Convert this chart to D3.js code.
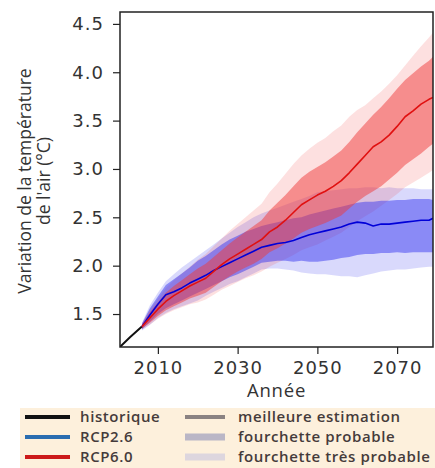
<!DOCTYPE html>
<html><head><meta charset="utf-8">
<script src="https://cdn.jsdelivr.net/npm/d3@7"></script>
<style>body{margin:0;background:#fff}svg{display:block}</style>
</head><body>
<svg id="c" width="435" height="468"></svg>
<script>
const histYears=[2000,2003,2006];
const histVals=[1.14,1.26,1.37];
const years=[2006,2008,2010,2012,2014,2016,2018,2020,2022,2024,2026,2028,2030,2032,2034,2036,2038,2040,2042,2044,2046,2048,2050,2052,2054,2056,2058,2060,2062,2064,2066,2068,2070,2072,2074,2076,2078,2079];
const rcp26Median=[1.37,1.49,1.60,1.70,1.73,1.77,1.82,1.86,1.90,1.95,1.99,2.03,2.07,2.11,2.15,2.19,2.21,2.23,2.24,2.26,2.29,2.32,2.34,2.36,2.38,2.40,2.43,2.45,2.44,2.41,2.43,2.43,2.44,2.45,2.46,2.47,2.47,2.49];
const rcp26LikelyLo=[1.34,1.42,1.50,1.56,1.60,1.64,1.68,1.72,1.76,1.80,1.84,1.88,1.91,1.95,1.99,2.03,2.04,2.05,2.05,2.04,2.05,2.04,2.04,2.05,2.06,2.08,2.09,2.11,2.12,2.12,2.13,2.13,2.14,2.13,2.14,2.14,2.14,2.14];
const rcp26LikelyHi=[1.40,1.56,1.68,1.80,1.86,1.92,1.98,2.05,2.10,2.16,2.22,2.27,2.31,2.35,2.38,2.41,2.43,2.45,2.47,2.49,2.50,2.53,2.55,2.57,2.59,2.61,2.63,2.65,2.66,2.66,2.67,2.67,2.68,2.68,2.69,2.69,2.69,2.68];
const rcp26VeryLo=[1.33,1.39,1.46,1.51,1.55,1.58,1.61,1.64,1.69,1.73,1.77,1.81,1.84,1.88,1.92,1.96,1.97,1.97,1.96,1.95,1.93,1.92,1.91,1.91,1.90,1.89,1.89,1.88,1.90,1.92,1.94,1.95,1.96,1.96,1.97,1.98,1.99,1.99];
const rcp26VeryHi=[1.41,1.59,1.72,1.84,1.91,1.98,2.04,2.10,2.16,2.22,2.28,2.34,2.40,2.45,2.50,2.54,2.57,2.60,2.63,2.66,2.69,2.72,2.76,2.77,2.78,2.79,2.80,2.80,2.81,2.81,2.80,2.81,2.80,2.80,2.80,2.79,2.79,2.79];
const rcp60Median=[1.37,1.46,1.55,1.63,1.69,1.74,1.79,1.83,1.87,1.94,2.01,2.07,2.12,2.17,2.22,2.27,2.35,2.40,2.47,2.55,2.63,2.68,2.73,2.77,2.82,2.88,2.96,3.05,3.14,3.23,3.28,3.35,3.44,3.54,3.60,3.67,3.72,3.74];
const rcp60LikelyLo=[1.35,1.41,1.48,1.54,1.58,1.62,1.66,1.69,1.72,1.78,1.84,1.89,1.94,1.98,2.02,2.07,2.14,2.18,2.23,2.28,2.34,2.38,2.41,2.44,2.48,2.52,2.59,2.66,2.72,2.77,2.82,2.89,2.96,3.04,3.10,3.16,3.23,3.26];
const rcp60LikelyHi=[1.39,1.52,1.62,1.72,1.79,1.85,1.91,1.97,2.02,2.09,2.16,2.23,2.29,2.35,2.41,2.47,2.57,2.65,2.73,2.82,2.91,2.97,3.02,3.07,3.13,3.19,3.28,3.38,3.47,3.56,3.64,3.73,3.83,3.92,3.99,4.06,4.12,4.16];
const rcp60VeryLo=[1.34,1.39,1.45,1.50,1.54,1.57,1.60,1.62,1.65,1.70,1.75,1.79,1.83,1.87,1.90,1.94,1.99,2.03,2.07,2.11,2.16,2.19,2.22,2.26,2.30,2.34,2.40,2.46,2.51,2.56,2.62,2.68,2.74,2.81,2.86,2.91,2.96,2.99];
const rcp60VeryHi=[1.40,1.55,1.66,1.77,1.85,1.92,1.99,2.06,2.12,2.20,2.28,2.36,2.43,2.50,2.57,2.64,2.76,2.85,2.95,3.05,3.14,3.21,3.27,3.32,3.39,3.45,3.54,3.61,3.66,3.73,3.80,3.88,3.97,4.07,4.17,4.27,4.36,4.41];
const yTicks=[1.5,2.0,2.5,3.0,3.5,4.0,4.5];
const xTicks=[2010,2030,2050,2070];
const legendLeft=["historique","RCP2.6","RCP6.0"];
const legendRight=["meilleure estimation","fourchette probable","fourchette très probable"];
const yLabel=["Variation de la température","de l'air (°C)"];
const xLabel="Année";

const svg=d3.select("#c");
const L=120,R=433,T=12,B=347;
const x=d3.scaleLinear().domain([2000.5,2079]).range([L,R]);
const y=d3.scaleLinear().domain([1.159,4.623]).range([B,T]);

svg.append("clipPath").attr("id","clip").append("rect").attr("x",L).attr("y",T).attr("width",R-L).attr("height",B-T);
const g=svg.append("g").attr("clip-path","url(#clip)");

function band(lo,hi,color,op){
  const a=d3.area().x((d,i)=>x(years[i])).y0((d,i)=>y(lo[i])).y1((d,i)=>y(hi[i]));
  g.append("path").datum(years).attr("d",a).attr("fill",color).attr("fill-opacity",op);
}
function line(xs,vals,color,w){
  const l=d3.line().x((d,i)=>x(xs[i])).y((d,i)=>y(vals[i]));
  g.append("path").datum(xs).attr("d",l).attr("fill","none").attr("stroke",color).attr("stroke-width",w).attr("stroke-linejoin","round");
}
band(rcp26VeryLo,rcp26VeryHi,"#2a2af0",0.18);
band(rcp60VeryLo,rcp60VeryHi,"#f03030",0.15);
band(rcp26LikelyLo,rcp26LikelyHi,"#2a2af0",0.45);
band(rcp60LikelyLo,rcp60LikelyHi,"#f03a3a",0.5);
line(histYears,histVals,"#111",2);
line(years,rcp26Median,"#0000d8",1.6);
line(years,rcp60Median,"#e01010",1.6);

svg.append("rect").attr("x",L).attr("y",T).attr("width",R-L).attr("height",B-T).attr("fill","none").attr("stroke","#222").attr("stroke-width",1.5);

const yAxis=svg.append("g").attr("transform",`translate(${L},0)`).call(d3.axisLeft(y).tickValues(yTicks).tickFormat(d3.format(".1f")).tickSize(7).tickPadding(9));
const xAxis=svg.append("g").attr("transform",`translate(0,${B})`).call(d3.axisBottom(x).tickValues(xTicks).tickFormat(d3.format("d")).tickSize(7).tickPadding(7));
[yAxis,xAxis].forEach(a=>{
  a.select(".domain").remove();
  a.selectAll("line").attr("stroke","#222").attr("stroke-width",1.2);
  a.selectAll("text").attr("font-family","DejaVu Sans").attr("font-size",18).attr("fill","#333").attr("letter-spacing",1);
});

const yl=svg.append("text").attr("transform","translate(25,181) rotate(-90)").attr("text-anchor","middle")
  .attr("font-family","Open Sans").attr("font-size",17.5).attr("fill","#333");
yl.append("tspan").attr("x",0).attr("dy","0.35em").text(yLabel[0]);
yl.append("tspan").attr("x",0).attr("dy","1.05em").text(yLabel[1]);

svg.append("text").attr("x",(L+R)/2).attr("y",397).attr("text-anchor","middle")
  .attr("font-family","Open Sans").attr("font-size",18.5).attr("letter-spacing",0.8).attr("fill","#333").text(xLabel);

const lg=svg.append("g");
lg.append("rect").attr("x",20).attr("y",408).attr("width",420).attr("height",62).attr("fill","#fdf0dc");
const leftColors=["#111","#2a6db0","#cc1a1a"];
const rightStyles=[["#8a8282",4],["#bab6c6",7],["#ddd6de",7]];
const rowY=[417,437,457];
const tStyle=s=>s.attr("dy","0.35em").attr("font-family","Open Sans").attr("font-weight",600).attr("font-size",15).attr("letter-spacing",0.6).attr("fill","#453b3b");
legendLeft.forEach((t,i)=>{
  lg.append("line").attr("x1",25).attr("x2",70).attr("y1",rowY[i]).attr("y2",rowY[i]).attr("stroke",leftColors[i]).attr("stroke-width",4);
  tStyle(lg.append("text").attr("x",80).attr("y",rowY[i])).text(t);
});
legendRight.forEach((t,i)=>{
  lg.append("line").attr("x1",185).attr("x2",225).attr("y1",rowY[i]).attr("y2",rowY[i]).attr("stroke",rightStyles[i][0]).attr("stroke-width",rightStyles[i][1]);
  tStyle(lg.append("text").attr("x",238).attr("y",rowY[i])).text(t);
});
</script>
</body></html>
